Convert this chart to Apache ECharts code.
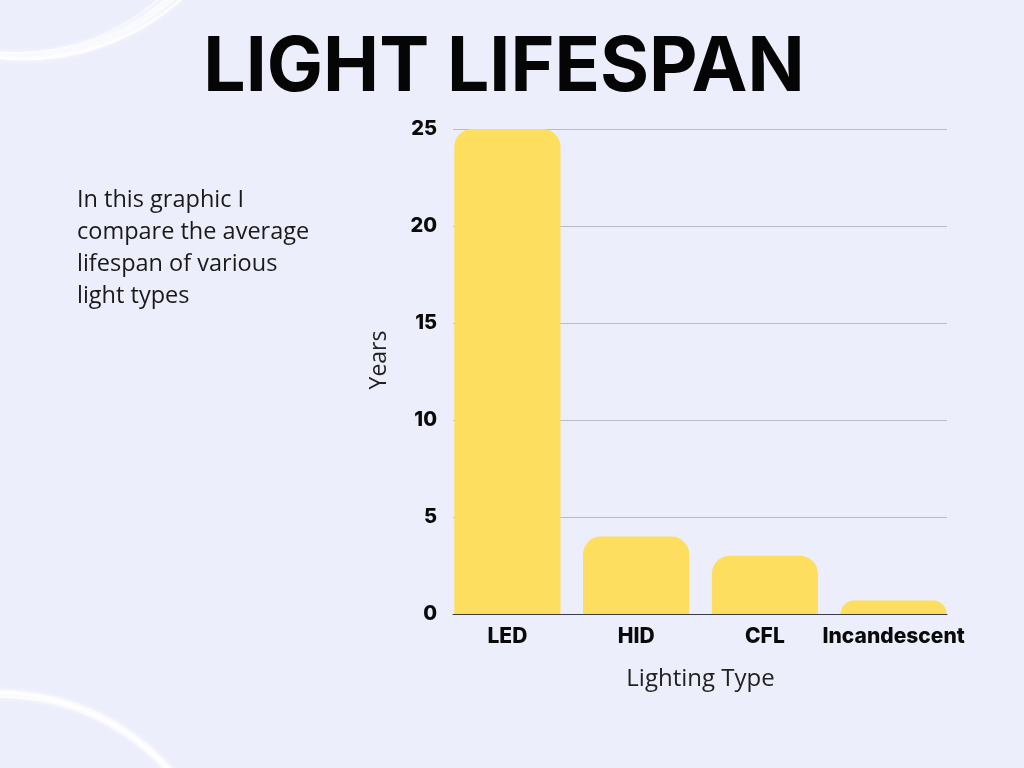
<!DOCTYPE html>
<html>
<head>
<meta charset="utf-8">
<title>Light Lifespan</title>
<script src="https://cdn.jsdelivr.net/npm/echarts@6/dist/echarts.min.js"></script>
<style>
  html, body { margin: 0; padding: 0; background: #ECEEFB; }
  #chart { width: 1024px; height: 768px; }
</style>
</head>
<body>
<div id="chart"></div>
<script>
// Light lifespan data (years)
var lightTypes = ['LED', 'HID', 'CFL', 'Incandescent'];
var lifespanYears = [25, 4, 3, 0.7];
var yTicks = [0, 5, 10, 15, 20, 25];

var titleText = 'LIGHT LIFESPAN';
var introLines = ['In this graphic I', 'compare the average', 'lifespan of various', 'light types'];

var chart = echarts.init(document.getElementById('chart'));

// decorative white swooshes in the corners
function swoosh(cx, cy, r, start, end, w, op) {
  return {
    type: 'arc', silent: true,
    shape: { cx: cx, cy: cy, r: r, startAngle: start, endAngle: end },
    style: { stroke: '#ffffff', lineWidth: w, fill: null, opacity: op, shadowBlur: 6, shadowColor: 'rgba(255,255,255,0.8)' }
  };
}

var yMin = yTicks[0], yMax = yTicks[yTicks.length - 1];

chart.setOption({
  backgroundColor: '#ECEEFB',
  textStyle: { fontFamily: 'Inter, "Open Sans", sans-serif' },
  title: {
    text: titleText,
    left: 499, top: 26, textAlign: 'center',
    textStyle: { fontSize: 75, fontWeight: 700, color: '#050505', fontFamily: 'Inter, sans-serif' }
  },
  graphic: [
    swoosh(20, -170, 226, 0.05, Math.PI * 0.75, 8, 0.55),
    swoosh(24, -177, 236, 0.1, Math.PI * 0.7, 3, 0.8),
    swoosh(16, -163, 216, 0.2, Math.PI * 0.72, 2, 0.6),
    swoosh(0, 920, 226, Math.PI * 1.3, Math.PI * 1.9, 8, 0.55),
    swoosh(-6, 928, 236, Math.PI * 1.3, Math.PI * 1.85, 3, 0.8),
    swoosh(6, 913, 216, Math.PI * 1.35, Math.PI * 1.9, 2, 0.6),
    {
      type: 'text', left: 77, top: 184,
      style: {
        text: introLines.join('\n'),
        fontSize: 23.5, lineHeight: 32, fill: '#1a1a1a',
        fontFamily: '"Open Sans", sans-serif'
      }
    },
    {
      type: 'text', x: 379, y: 360, rotation: Math.PI / 2,
      style: {
        text: 'Years', fontSize: 23, fill: '#222',
        align: 'center', verticalAlign: 'middle',
        fontFamily: '"Open Sans", sans-serif'
      }
    }
  ],
  grid: [
    { left: 453, right: 77, top: 129, bottom: 154 },
    { left: 443, right: 66, top: 129, bottom: 154 }
  ],
  xAxis: [{
    type: 'category', gridIndex: 0,
    data: lightTypes,
    z: 5,
    axisLine: { lineStyle: { color: '#3a3a4a', width: 1 } },
    axisTick: { show: false },
    axisLabel: { show: false }
  }, {
    type: 'category', gridIndex: 1,
    data: lightTypes,
    name: 'Lighting Type',
    nameLocation: 'middle',
    nameGap: 53,
    nameTextStyle: { fontSize: 24, color: '#222', fontFamily: '"Open Sans", sans-serif' },
    axisLine: { show: false },
    axisTick: { show: false },
    axisLabel: { fontSize: 21, fontWeight: 800, color: '#0a0a0a', margin: 12, interval: 0 }
  }],
  yAxis: [{
    type: 'value', gridIndex: 0,
    min: yMin, max: yMax, interval: 5,
    axisLine: { show: false },
    axisTick: { show: false },
    axisLabel: { fontSize: 20, fontWeight: 800, color: '#0a0a0a', margin: 16 },
    splitLine: { lineStyle: { color: '#b9bbc8', width: 1 } }
  }, {
    type: 'value', gridIndex: 1,
    min: yMin, max: yMax, interval: 5,
    show: false,
    splitLine: { show: false }
  }],
  series: [{
    type: 'bar',
    xAxisIndex: 1, yAxisIndex: 1,
    data: lifespanYears,
    barCategoryGap: '17.5%',
    itemStyle: { color: '#FEDE5F', borderRadius: [18, 18, 0, 0] }
  }]
});
</script>
</body>
</html>
